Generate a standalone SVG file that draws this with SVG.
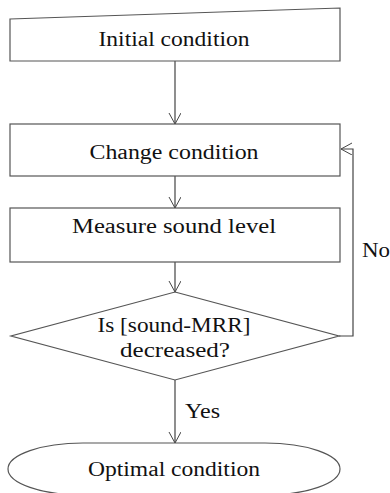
<svg xmlns="http://www.w3.org/2000/svg" width="390" height="493" viewBox="0 0 390 493">
<defs>
<marker id="ah" markerWidth="14" markerHeight="14" refX="11" refY="6" orient="auto" markerUnits="userSpaceOnUse">
<path d="M0,0 L11,6 L0,12" fill="none" stroke="#444" stroke-width="1"/>
</marker>
<style>
.shape{fill:#fff;stroke:#555;stroke-width:1.2}
.conn{fill:none;stroke:#444;stroke-width:1.2;marker-end:url(#ah)}
.t{font-family:"Liberation Serif","DejaVu Serif",serif;font-size:20px;fill:#111;text-anchor:middle}
.lbl{font-family:"Liberation Serif","DejaVu Serif",serif;font-size:20px;fill:#111}
</style>
</defs>
<rect width="390" height="493" fill="#fff"/>
<g id="connectors">
<path class="conn" d="M175,61 V124"/>
<path class="conn" d="M175,176 V208"/>
<path class="conn" d="M175,262 V292"/>
<path class="conn" d="M339,336 H353 V149 H341"/>
<path class="conn" d="M175,380 V443"/>
<text class="lbl" x="362" y="257" textLength="28" lengthAdjust="spacingAndGlyphs">No</text>
<text class="lbl" x="185" y="418" textLength="35" lengthAdjust="spacingAndGlyphs">Yes</text>
</g>
<g id="initial">
<path class="shape" d="M10,19 L340,8 V61 H10 Z"/>
<text class="t" x="174" y="46" textLength="151" lengthAdjust="spacingAndGlyphs">Initial condition</text>
</g>
<g id="change">
<rect class="shape" x="10" y="124" width="330" height="52"/>
<text class="t" x="174" y="159" textLength="169" lengthAdjust="spacingAndGlyphs">Change condition</text>
</g>
<g id="measure">
<rect class="shape" x="10" y="208" width="330" height="54"/>
<text class="t" x="174" y="233" textLength="204" lengthAdjust="spacingAndGlyphs">Measure sound level</text>
</g>
<g id="decision">
<path class="shape" d="M175,292 L339,336 L175,380 L11,336 Z"/>
<text class="t" x="174" y="332" textLength="153" lengthAdjust="spacingAndGlyphs">Is [sound-MRR]</text>
<text class="t" x="175" y="357" textLength="110" lengthAdjust="spacingAndGlyphs">decreased?</text>
</g>
<g id="optimal">
<rect class="shape" x="8" y="443" width="332" height="52" rx="75" ry="26"/>
<text class="t" x="174" y="476" textLength="172" lengthAdjust="spacingAndGlyphs">Optimal condition</text>
</g>
</svg>
